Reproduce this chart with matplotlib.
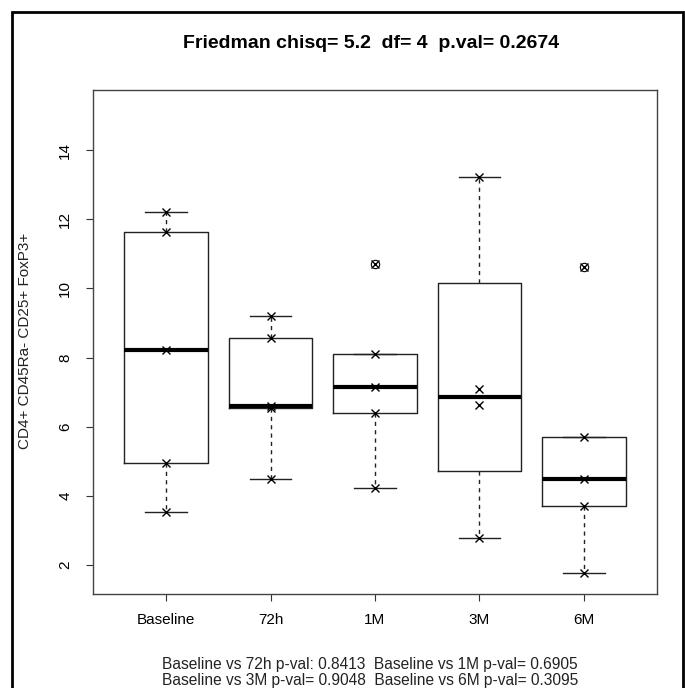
import matplotlib
matplotlib.use("Agg")
import matplotlib.pyplot as plt
import numpy as np
from matplotlib.patches import Rectangle

plt.rcParams["font.family"] = ["Liberation Sans", "DejaVu Sans"]

# one value per subject
GROUPS = ["Baseline", "72h", "1M", "3M", "6M"]
baseline = [12.20, 11.62, 8.22, 4.95, 3.53]
h72 = [9.20, 8.56, 6.60, 6.55, 4.50]
m1 = [10.70, 8.10, 7.16, 6.40, 4.22]
m3 = [13.21, 7.08, 6.63, 2.79]
m6 = [10.61, 5.71, 4.48, 3.70, 1.78]
SERIES = [baseline, h72, m1, m3, m6]

TITLE = "Friedman chisq= 5.2  df= 4  p.val= 0.2674"
YLABEL = "CD4+ CD45Ra- CD25+ FoxP3+"
PAIRWISE = ["Baseline vs 72h p-val: 0.8413  Baseline vs 1M p-val= 0.6905",
            "Baseline vs 3M p-val= 0.9048  Baseline vs 6M p-val= 0.3095"]


def r_boxstats(vals, label):
    # R's fivenum hinges + 1.5*IQR whiskers
    x = np.sort(np.asarray(vals, float))
    n = len(x)
    n4 = np.floor((n + 3) / 2) / 2
    d = np.array([1, n4, (n + 1) / 2, n + 1 - n4, n]) - 1
    q = 0.5 * (x[np.floor(d).astype(int)] + x[np.ceil(d).astype(int)])
    iqr = q[3] - q[1]
    lo, hi = q[1] - 1.5 * iqr, q[3] + 1.5 * iqr
    inside = x[(x >= lo) & (x <= hi)]
    return dict(label=label, med=q[2], q1=q[1], q3=q[3],
                whislo=inside.min(), whishi=inside.max(),
                fliers=x[(x < lo) | (x > hi)])


W, H = 685, 688
fig = plt.figure(figsize=(W / 100, H / 100), dpi=100)
ax = fig.add_axes([93 / W, 1 - 594 / H, (657 - 93) / W, (594 - 90) / H])

pos = np.arange(1, len(GROUPS) + 1)
stats = [r_boxstats(v, g) for v, g in zip(SERIES, GROUPS)]
ax.bxp(stats, positions=pos, widths=0.8, capwidths=0.4,
       boxprops=dict(color="#222", lw=1),
       medianprops=dict(color="k", lw=3, solid_capstyle="butt"),
       whiskerprops=dict(color="#222", lw=1, ls=(0, (3, 3))),
       capprops=dict(color="#222", lw=1),
       flierprops=dict(marker="o", mfc="none", mec="k", ms=6, mew=0.8))

for p, v in zip(pos, SERIES):
    ax.plot(np.full(len(v), p), v, "x", color="k", ms=5.5, mew=1, zorder=5)

ax.set_xlim(0.3, 5.7)
ax.set_ylim(1.16, 15.74)
ax.set_yticks(np.arange(2, 15, 2))
ax.set_yticklabels([str(t) for t in range(2, 15, 2)], rotation=90, va="center")
ax.set_xticks(pos)
ax.set_xticklabels(GROUPS)
ax.tick_params(axis="both", length=5, width=0.8, color="#333", labelsize=11)
ax.tick_params(axis="x", pad=9)
ax.tick_params(axis="y", pad=10)
for s in ax.spines.values():
    s.set_color("#444")
    s.set_linewidth(1)

fig.text(25 / W, 1 - 341 / H, YLABEL, rotation=90, ha="center", va="center",
         fontsize=11, color="#222")
fig.text(371 / W, 1 - 44 / H, TITLE, ha="center", va="center",
         fontsize=14, fontweight="bold")
fig.text(370 / W, 1 - 664 / H, PAIRWISE[0], ha="center", va="center", fontsize=11.2, color="#222")
fig.text(370 / W, 1 - 680 / H, PAIRWISE[1], ha="center", va="center", fontsize=11.2, color="#222")

# outer frame (bottom edge falls outside the image)
fig.patches.append(Rectangle((12 / W, -0.05), (683 - 12) / W, 1.05 - 12 / H,
                             transform=fig.transFigure, fill=False,
                             ec="k", lw=2))

fig.savefig("out.png", dpi=100)
